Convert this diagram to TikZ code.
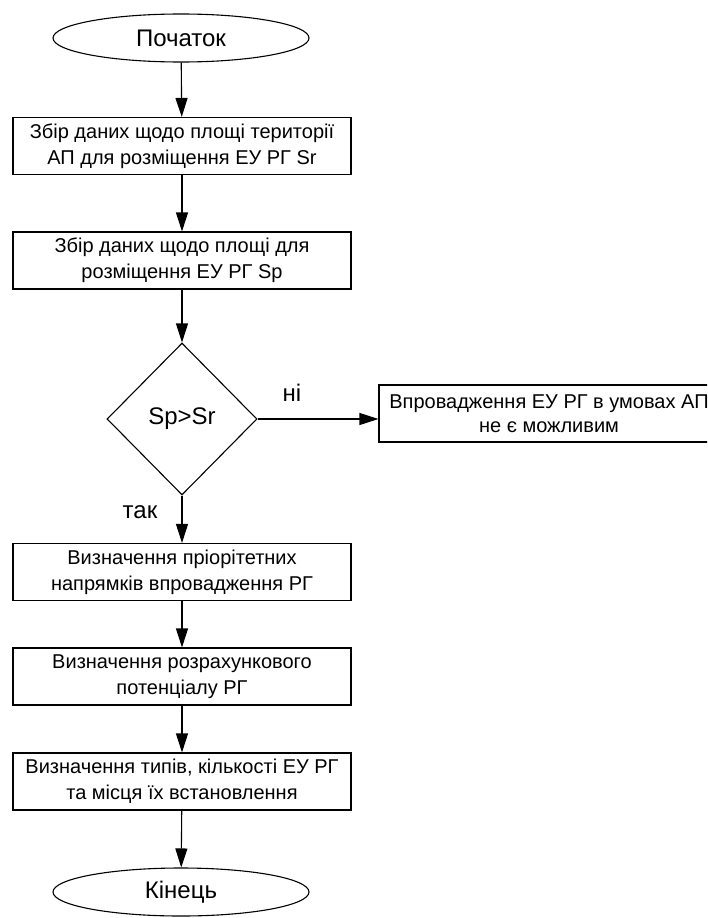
\documentclass[tikz,border=0pt]{standalone}
\usepackage{fontspec}
\setmainfont{Liberation Sans}
\usetikzlibrary{shapes.geometric,arrows.meta}
\begin{document}
\begin{tikzpicture}[x=1pt,y=-1pt,
  every node/.style={inner sep=0pt},
  procbox/.style={draw,line width=1.1pt,minimum width=338pt,minimum height=57pt,align=center,font=\fontsize{20}{26}\selectfont},
  termbox/.style={draw,ellipse,line width=1.1pt,minimum width=256pt,minimum height=48pt,font=\fontsize{24}{28}\selectfont},
  decbox/.style={draw,diamond,line width=1.1pt,minimum width=150pt,minimum height=152pt,font=\fontsize{24}{28}\selectfont},
  lbl/.style={font=\fontsize{24}{28}\selectfont},
  flow/.style={line width=1.1pt,-{Triangle[length=19pt,width=12pt]}}]
\clip (0,0) rectangle (707,918);
\node[termbox] (start) at (181,38) {Початок};
\node[procbox] (b1) at (182,146) {Збір даних щодо площі території\\АП для розміщення ЕУ РГ Sr};
\node[procbox] (b2) at (182,260.5) {Збір даних щодо площі для\\розміщення ЕУ РГ Sp};
\node[decbox] (d) at (182,419) {Sp>Sr};
\node[procbox,minimum width=340pt,font=\fontsize{20}{24}\selectfont] (no) at (549,413.5) {Впровадження ЕУ РГ в умовах АП\\не є можливим};
\node[procbox] (b3) at (182,572) {Визначення пріорітетних\\напрямків впровадження РГ};
\node[procbox] (b4) at (182,676.5) {Визначення розрахункового\\потенціалу РГ};
\node[procbox] (b5) at (182,781.5) {Визначення типів, кількості ЕУ РГ\\та місця їх встановлення};
\node[termbox] (end) at (181,892) {Кінець};
\node[lbl] (ni) at (292,393) {ні};
\node[lbl] (tak) at (140,512) {так};
\draw[flow] (start) -- (b1);
\draw[flow] (b1) -- (b2);
\draw[flow] (b2) -- (d);
\draw[flow] (d.east) -- (d.east -| no.west);
\draw[flow] (d) -- (b3);
\draw[flow] (b3) -- (b4);
\draw[flow] (b4) -- (b5);
\draw[flow] (b5) -- (end);
\end{tikzpicture}
\end{document}
